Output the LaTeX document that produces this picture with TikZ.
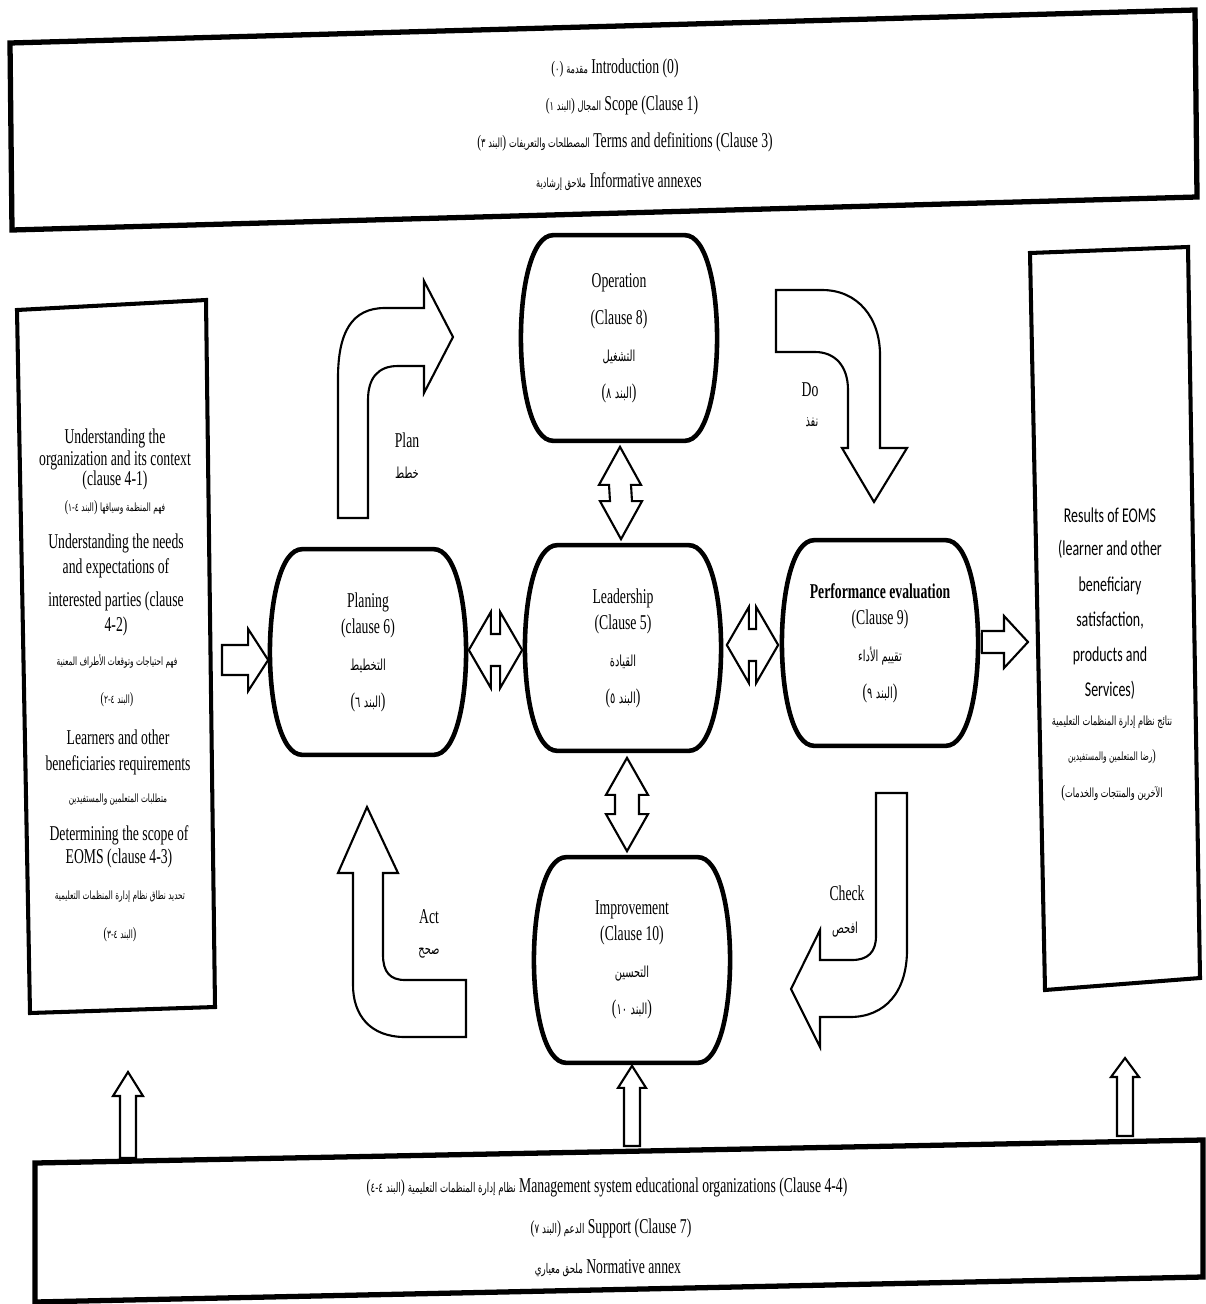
\documentclass[tikz,border=0pt]{standalone}
\usepackage{fontspec}
\setmainfont{Liberation Serif}[FakeStretch=0.65]
\newfontfamily\arabicfont{DejaVu Sans}[Script=Arabic,FakeStretch=0.65,Scale=0.72]
\newfontfamily\sidefont{Carlito}[FakeStretch=0.66]
\TeXXeTstate=1
\usetikzlibrary{calc}
\newcommand\ar[1]{{\arabicfont\beginR #1\endR}}
\newcommand\ad[1]{{\arabicfont #1}}
\newcommand\bnd[1]{(\ad{#1} \ar{البند})}
% smaller Arabic for the framed boxes
\newcommand\arsz[2]{{\fontsize{#1}{#1}\selectfont #2}}
% barrel outline around a named node
\newcommand\barrelshape[1]{%
  \draw[barrelline] ($(#1.north west)+(32,0)$) -- ($(#1.north east)+(-32,0)$)
    .. controls ($(#1.north east)+(11,0)$) and ($(#1.south east)+(11,0)$) .. ($(#1.south east)+(-32,0)$)
    -- ($(#1.south west)+(32,0)$)
    .. controls ($(#1.south west)+(-11,0)$) and ($(#1.north west)+(-11,0)$) .. cycle;}
% vertical double block arrow: top tip, bottom tip, head half width, shaft half width, head length
\newcommand\vdbl[5]{%
  \draw[blk] (#1) -- ($(#1)+(#3,#5)$) -- ($(#1)+(#4,#5)$) -- ($(#2)+(#4,-#5)$) -- ($(#2)+(#3,-#5)$) -- (#2)
    -- ($(#2)+(-#3,-#5)$) -- ($(#2)+(-#4,-#5)$) -- ($(#1)+(-#4,#5)$) -- ($(#1)+(-#3,#5)$) -- cycle;}
% horizontal double block arrow: left tip, right tip, ...
\newcommand\hdbl[5]{%
  \draw[blk] (#1) -- ($(#1)+(#5,-#3)$) -- ($(#1)+(#5,-#4)$) -- ($(#2)+(-#5,-#4)$) -- ($(#2)+(-#5,-#3)$) -- (#2)
    -- ($(#2)+(-#5,#3)$) -- ($(#2)+(-#5,#4)$) -- ($(#1)+(#5,#4)$) -- ($(#1)+(#5,#3)$) -- cycle;}
% right-pointing block arrow: tail, tip, ...
\newcommand\harrow[5]{%
  \draw[blk] ($(#1)+(0,-#4)$) -- ($(#2)+(-#5,-#4)$) -- ($(#2)+(-#5,-#3)$) -- (#2)
    -- ($(#2)+(-#5,#3)$) -- ($(#2)+(-#5,#4)$) -- ($(#1)+(0,#4)$) -- cycle;}
% up-pointing block arrow: tail, tip, ...
\newcommand\uarrow[5]{%
  \draw[blk] ($(#1)+(-#4,0)$) -- ($(#2)+(-#4,#5)$) -- ($(#2)+(-#3,#5)$) -- (#2)
    -- ($(#2)+(#3,#5)$) -- ($(#2)+(#4,#5)$) -- ($(#1)+(#4,0)$) -- cycle;}
\begin{document}
\begin{tikzpicture}[x=0.02cm,y=-0.02cm,
  blk/.style={draw, line width=1.2pt, fill=white, line join=miter},
  thickbox/.style={draw, line width=3pt, line join=miter},
  sidebox/.style={draw, line width=2.3pt, line join=miter},
  txt/.style={inner sep=0pt, font=\fontsize{12}{14}\selectfont},
  stxt/.style={inner sep=0pt, font=\sidefont\fontsize{12}{14}\selectfont},
  lbl/.style={inner sep=0pt, font=\fontsize{12}{14}\selectfont},
  barrel/.style={minimum width=3.9cm, minimum height=4.1cm, inner sep=0pt, align=center, font=\fontsize{12}{21}\selectfont},
  barrelline/.style={line width=2.6pt}]
\fill[white] (0,0) rectangle (1206,1304);
\useasboundingbox (0,0) rectangle (1206,1304);

% ---------- top box ----------
\coordinate (tbA) at (10,43);
\coordinate (tbB) at (1195,10);
\coordinate (tbC) at (1197,197);
\coordinate (tbD) at (12,230);
\draw[thickbox] (tbA) -- (tbB) -- (tbC) -- (tbD) -- cycle;
\node[txt] (t1) at (615,68) {\arsz{10}{(\ad{٠}) \ar{مقدمة}} Introduction (0)};
\node[txt] (t2) at (622,105) {\arsz{10}{\bnd{١} \ar{المجال}} Scope (Clause 1)};
\node[txt] (t3) at (625,142) {\arsz{10}{\bnd{٣} \ar{المصطلحات والتعريفات}} Terms and definitions (Clause 3)};
\node[txt] (t4) at (619,182) {\arsz{10}{\ar{ملاحق إرشادية}} Informative annexes};

% ---------- left box ----------
\coordinate (lbA) at (17,310);
\coordinate (lbB) at (206,300);
\coordinate (lbC) at (215,1007);
\coordinate (lbD) at (30,1013);
\draw[sidebox] (lbA) -- (lbB) -- (lbC) -- (lbD) -- cycle;
\coordinate (lbR) at (213,660);
\node[txt] (l1) at (115,438) {Understanding the};
\node[txt] (l2) at (115,460) {organization and its context};
\node[txt] (l3) at (115,480) {(clause 4-1)};
\node[txt] (l4) at (115,508) {\arsz{9}{\bnd{٤-١} \ar{فهم المنظمة وسياقها}}};
\node[txt] (l5) at (116,543) {Understanding the needs};
\node[txt] (l6) at (116,568) {and expectations of};
\node[txt] (l7) at (116,601) {interested parties (clause};
\node[txt] (l8) at (116,626) {4-2)};
\node[txt] (l9) at (117,661) {\arsz{9}{\ar{فهم احتياجات وتوقعات الأطراف المعنية}}};
\node[txt] (l10) at (117,700) {\arsz{9}{\bnd{٤-٢}}};
\node[txt] (l11) at (118,737) {Learners and other};
\node[txt] (l12) at (118,765) {beneficiaries requirements};
\node[txt] (l13) at (118,800) {\arsz{9}{\ar{متطلبات المتعلمين والمستفيدين}}};
\node[txt] (l14) at (119,835) {Determining the scope of};
\node[txt] (l15) at (119,858) {EOMS (clause 4-3)};
\node[txt] (l16) at (120,897) {\arsz{9}{\ar{تحديد نطاق نظام إدارة المنظمات التعليمية}}};
\node[txt] (l17) at (120,935) {\arsz{9}{\bnd{٤-٣}}};

% ---------- right box ----------
\coordinate (rbA) at (1030,253);
\coordinate (rbB) at (1188,247);
\coordinate (rbC) at (1200,978);
\coordinate (rbD) at (1045,990);
\draw[sidebox] (rbA) -- (rbB) -- (rbC) -- (rbD) -- cycle;
\coordinate (rbL) at (1030,642);
\node[stxt] (r1) at (1110,515) {Results of EOMS};
\node[stxt] (r2) at (1110,549) {(learner and other};
\node[stxt] (r3) at (1110,586) {beneficiary};
\node[stxt] (r4) at (1110,621) {satisfaction,};
\node[stxt] (r5) at (1110,656) {products and};
\node[stxt] (r6) at (1110,690) {Services)};
\node[txt] (r7) at (1112,722) {\arsz{10}{\ar{نتائج نظام إدارة المنظمات التعليمية}}};
\node[txt] (r8) at (1112,757) {\arsz{9}{\ar{رضا المتعلمين والمستفيدين})}};
\node[txt] (r9) at (1112,793) {\arsz{10}{(\ar{الآخرين والمنتجات والخدمات}}};

% ---------- bottom box ----------
\coordinate (bbA) at (35,1163);
\coordinate (bbB) at (1203,1140);
\coordinate (bbC) at (1203,1277);
\coordinate (bbD) at (35,1302);
\draw[thickbox] (bbA) -- (bbB) -- (bbC) -- (bbD) -- cycle;
\node[txt] (b1) at (607,1187) {\arsz{10.5}{\bnd{٤-٤} \ar{نظام إدارة المنظمات التعليمية}} Management system educational organizations (Clause 4-4)};
\node[txt] (b2) at (611,1228) {\arsz{10.5}{\bnd{٧} \ar{الدعم}} Support (Clause 7)};
\node[txt] (b3) at (608,1268) {\arsz{10.5}{\ar{ملحق معياري}} Normative annex};

% ---------- barrel nodes ----------
\node[barrel] (op) at (619,338) {Operation\\(Clause 8)\\\ar{التشغيل}\\\bnd{٨}};
\node[barrel] (lead) at (623,648) {Leadership\\[-6pt](Clause 5)\\\ar{القيادة}\\\bnd{٥}};
\node[barrel] (plan) at (368,652) {Planing\\[-6pt](clause 6)\\\ar{التخطيط}\\\bnd{٦}};
\node[barrel] (perf) at (880,643) {\textbf{Performance evaluation}\\[-6pt](Clause 9)\\\ar{تقييم الأداء}\\\bnd{٩}};
\node[barrel] (imp) at (632,960) {Improvement\\[-6pt](Clause 10)\\\ar{التحسين}\\\bnd{١٠}};
\barrelshape{op}
\barrelshape{lead}
\barrelshape{plan}
\barrelshape{perf}
\barrelshape{imp}

% ---------- straight block arrows ----------
\coordinate (opA) at ($(op.south)+(1,6)$);
\coordinate (ldN) at ($(lead.north)+(-2,-6)$);
\vdbl{opA}{ldN}{21}{11}{38}
\coordinate (ldS) at ($(lead.south)+(4,7)$);
\coordinate (imN) at ($(imp.north)+(-5,-6)$);
\vdbl{ldS}{imN}{21}{12}{37}
\coordinate (plE) at ($(plan.east)+(3,-2)$);
\coordinate (ldW) at ($(lead.west)+(-3,2)$);
\hdbl{plE}{ldW}{38}{16}{22}
\coordinate (ldE) at ($(lead.east)+(6,-3)$);
\coordinate (pfW) at ($(perf.west)+(-4,2)$);
\hdbl{ldE}{pfW}{38}{16}{22}
\coordinate (lbT) at ($(lbR)+(9,0)$);
\coordinate (plW) at ($(plan.west)+(-2,8)$);
\harrow{lbT}{plW}{31}{15}{20}
\coordinate (pfE) at ($(perf.east)+(4,-1)$);
\coordinate (rbT) at ($(rbL)+(-2,0)$);
\harrow{pfE}{rbT}{26}{11}{24}
% up arrows from bottom box
\coordinate (u1a) at (128,1158);
\coordinate (u1b) at (128,1072);
\uarrow{u1a}{u1b}{15}{8}{24}
\coordinate (u2a) at (632,1146);
\coordinate (u2b) at ($(imp.south)+(0,3)$);
\uarrow{u2a}{u2b}{14}{8}{22}
\coordinate (u3a) at (1125,1136);
\coordinate (u3b) at (1125,1058);
\uarrow{u3a}{u3b}{14}{8}{19}

% ---------- curved block arrows ----------
% Plan
\draw[blk] (338,518) -- (338,378) .. controls (338,332) and (352,308) .. (385,308) -- (424,308) -- (424,281)
  -- (453,337) -- (424,393) -- (424,366) -- (398,366) .. controls (378,366) and (368,378) .. (368,400) -- (368,518) -- cycle;
% Do
\draw[blk] (776,290) -- (822,290) .. controls (858,290) and (880,318) .. (880,355) -- (880,448) -- (907,448)
  -- (874,502) -- (842,448) -- (848,448) -- (848,390) .. controls (848,366) and (835,352) .. (815,352) -- (776,352) -- cycle;
% Check
\draw[blk] (876,793) -- (907,793) -- (907,950) .. controls (907,992) and (885,1017) .. (850,1017) -- (820,1017) -- (820,1047)
  -- (791,989) -- (820,930) -- (820,960) -- (852,960) .. controls (868,960) and (876,952) .. (876,936) -- cycle;
% Act
\draw[blk] (367,807) -- (398,873) -- (383,873) -- (383,955) .. controls (383,972) and (390,980) .. (405,980) -- (466,980)
  -- (466,1037) -- (405,1037) .. controls (370,1037) and (353,1015) .. (353,985) -- (353,873) -- (338,873) -- cycle;

% ---------- PDCA labels ----------
\node[lbl] (planL) at (407,440) {Plan};
\node[lbl] (planA) at (407,473) {\ar{خطط}};
\node[lbl] (doL) at (810,390) {Do};
\node[lbl] (doA) at (812,422) {\ar{نفذ}};
\node[lbl] (chkL) at (847,893) {Check};
\node[lbl] (chkA) at (845,930) {\ar{افحص}};
\node[lbl] (actL) at (429,917) {Act};
\node[lbl] (actA) at (429,953) {\ar{صحح}};
\end{tikzpicture}
\end{document}
